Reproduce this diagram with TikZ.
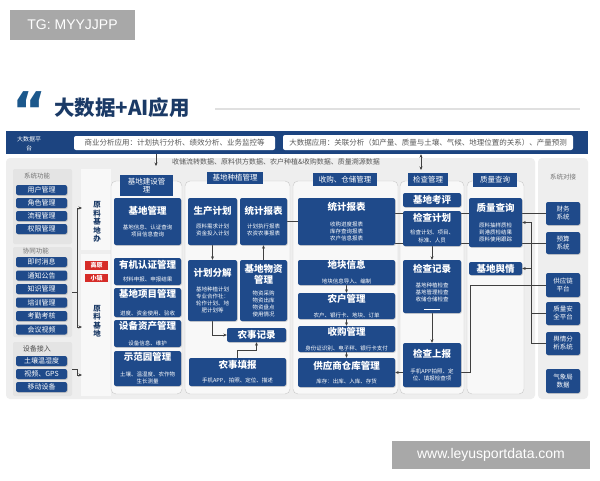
\documentclass[tikz,border=0pt]{standalone}
\usepackage{fontspec}
\setmainfont{Noto Sans CJK SC}
\newfontfamily\wmfont{Liberation Sans}
\newfontfamily\quotefont{DejaVu Sans}
\usetikzlibrary{arrows.meta,shadows}
\definecolor{boxblue}{RGB}{31,74,138}
\definecolor{bandblue}{RGB}{28,68,128}
\definecolor{navy}{RGB}{27,58,102}
\definecolor{quoteblue}{RGB}{28,88,140}
\definecolor{tagred}{RGB}{214,44,40}
\definecolor{panelgray}{RGB}{238,238,238}
\definecolor{framefill}{RGB}{248,248,248}
\definecolor{framegray}{RGB}{200,200,200}
\definecolor{groupgray}{RGB}{228,228,228}
\definecolor{wmgray}{RGB}{168,168,168}
\newcommand{\boxtitle}[1]{{\fontsize{9.5}{11}\selectfont\bfseries #1}}
\pgfdeclarelayer{bg}
\pgfdeclarelayer{lines}
\pgfsetlayers{bg,lines,main}

\begin{document}
\begin{tikzpicture}[x=1pt, y=-1pt,
  >={Stealth[length=3.5pt,width=3pt]},
  box/.style={fill=boxblue, text=white, rounded corners=2pt, inner sep=0pt, align=center,
    font=\fontsize{5.5}{7}\selectfont,
    drop shadow={shadow xshift=0.8pt, shadow yshift=-0.8pt, opacity=0.3}},
  btn/.style={box, minimum width=51pt, minimum height=10pt, font=\fontsize{7}{8}\selectfont},
  sysbox/.style={box, minimum width=34pt, font=\fontsize{6.5}{8}\selectfont},
  tab/.style={fill=boxblue, text=white, inner sep=0pt, align=center, font=\fontsize{7.5}{8.5}\selectfont},
  tag/.style={fill=tagred, text=white, inner sep=0pt, minimum width=23pt, minimum height=8.5pt, font=\fontsize{6}{6}\selectfont\bfseries},
  frame/.style={draw=framegray, fill=framefill, rounded corners=5pt, inner sep=0pt},
  group/.style={fill=groupgray, rounded corners=2pt, inner sep=0pt, minimum width=59pt},
  grouplabel/.style={text=black!55, font=\fontsize{6.5}{7}\selectfont},
  vtext/.style={text=navy, align=center, font=\fontsize{7.5}{8.5}\selectfont\bfseries},
  appbox/.style={fill=white, rounded corners=2pt, inner sep=0pt, text=black!65, font=\fontsize{7.5}{8}\selectfont},
  conn/.style={draw=black!75, line width=0.5pt},
  wm/.style={fill=wmgray, text=white, inner sep=0pt, font=\wmfont\fontsize{14}{16}\selectfont}
]
\useasboundingbox (0,0) rectangle (600,480);

% watermarks and heading
\node[wm, minimum width=125pt, minimum height=30pt] (tg) at (72.5,25) {TG: MYYJJPP};
\node[wm, minimum width=198pt, minimum height=28pt] (site) at (491,455) {www.leyusportdata.com};
\node[text=quoteblue, anchor=base, inner sep=0pt, font=\quotefont\bfseries\fontsize{52}{52}\selectfont] (quote) at (30,129) {“};
\node[text=navy, anchor=base west, inner sep=0pt, font=\fontsize{20.5}{22}\selectfont\bfseries] (title) at (54,115.5) {大数据+AI应用};
\coordinate (rulea) at (215,109);
\coordinate (ruleb) at (580,109);
\draw[black!12, line width=1.5pt] (rulea) -- (ruleb);

% top band
\node[fill=bandblue, minimum width=582pt, minimum height=23pt, inner sep=0pt] (band) at (297,142.5) {};
\begin{scope}
\clip (band.north west) rectangle (band.south east);
\node[text=white, align=center, font=\fontsize{6}{9}\selectfont] (bandlabel) at (29,148.5) {大数据平\\台\\应用};
\end{scope}
\node[appbox, minimum width=201pt, minimum height=14pt] (bizapp) at (174.5,143) {商业分析应用：计划执行分析、绩效分析、业务监控等};
\node[appbox, minimum width=290pt, minimum height=15pt] (bigapp) at (428,142.5) {大数据应用：关联分析（如产量、质量与土壤、气候、地理位置的关系）、产量预测};

% panels
\begin{pgfonlayer}{bg}
\fill[white] (0,0) rectangle (600,480);
\node[fill=panelgray, rounded corners=4pt, inner sep=0pt, minimum width=529pt, minimum height=241pt] (mainpanel) at (270.5,278.5) {};
\node[fill=panelgray, rounded corners=4pt, inner sep=0pt, minimum width=50pt, minimum height=241pt] (syspanel) at (563,278.5) {};
\node[group, minimum height=75pt] (gn) at (42.5,206.5) {};
\node[group, minimum height=90pt] (xt) at (42.5,292) {};
\node[group, minimum height=54pt] (sb) at (42.5,369) {};
\node[fill=framefill, inner sep=0pt, minimum width=30pt, minimum height=81pt] (jdbpanel) at (96,209.5) {};
\node[fill=framefill, inner sep=0pt, minimum width=30pt, minimum height=142pt] (jdpanel) at (96,325) {};
\node[frame, minimum width=71pt, minimum height=213pt] (fjs) at (146.5,287.5) {};
\node[frame, minimum width=105pt, minimum height=213pt] (fzz) at (237.5,287.5) {};
\node[frame, minimum width=105pt, minimum height=213pt] (fsg) at (345.5,287.5) {};
\node[frame, minimum width=64pt, minimum height=213pt] (fjc) at (432,287.5) {};
\node[frame, minimum width=57pt, minimum height=213pt] (fzl) at (495.5,287.5) {};
\end{pgfonlayer}

\node[text=black!65, font=\fontsize{7}{8}\selectfont] (data) at (276,162) {收储流转数据、原料供方数据、农户种植\&收购数据、质量溯源数据};
\coordinate (d1) at (156,166);
\coordinate (d2) at (421,170);

% left functions
\node[grouplabel] (gnl) at (37,176) {系统功能};
\node[btn] (yh) at (41.5,190) {用户管理};
\node[btn] (js) at (41.5,203) {角色管理};
\node[btn] (lc) at (41.5,216) {流程管理};
\node[btn] (qx) at (41.5,229) {权限管理};
\node[grouplabel] (xtl) at (36,251) {协同功能};
\node[btn] (xx) at (41.5,262) {即时消息};
\node[btn] (tz) at (41.5,275.5) {通知公告};
\node[btn] (zs) at (41.5,289) {知识管理};
\node[btn] (px) at (41.5,302.5) {培训管理};
\node[btn] (kq) at (41.5,316) {考勤考核};
\node[btn] (hy) at (41.5,329.5) {会议视频};
\node[grouplabel, text=black!70, font=\fontsize{7}{8}\selectfont] (sbl) at (37,349) {设备接入};
\node[btn] (tr) at (41.5,361) {土壤温湿度};
\node[btn] (sp) at (41.5,374) {视频、GPS};
\node[btn] (yd) at (41.5,387) {移动设备};

\node[vtext] (jdb) at (97,222) {原\\料\\基\\地\\办};
\node[vtext] (jd) at (97,321) {原\\料\\基\\地};
\node[tag] (gy) at (96.5,265.5) {高原};
\node[tag] (xz) at (96.5,278) {小镇};
\coordinate (b1) at (82,208);
\coordinate (b2) at (82,327);
\coordinate (b3) at (82,375);

% column tabs
\node[tab, minimum width=53pt, minimum height=21pt] (tjs) at (146.5,185.5) {基地建设管\\理};
\node[tab, minimum width=56pt, minimum height=12pt] (tzz) at (235,178) {基地种植管理};
\node[tab, minimum width=64pt, minimum height=13pt] (tsg) at (345,179.5) {收购、仓储管理};
\node[tab, minimum width=40pt, minimum height=13pt] (tjc) at (428,179.5) {检查管理};
\node[tab, minimum width=44pt, minimum height=14pt] (tzl) at (495,180) {质量查询};

% base construction
\node[box, minimum width=67pt, minimum height=47pt] (jdgl) at (147.5,221.5) {\boxtitle{基地管理}\\[8pt]基地信息、认证查询\\项目信息查询};
\node[box, minimum width=67pt, minimum height=27pt] (yjrz) at (147.5,271.5) {\boxtitle{有机认证管理}\\[6pt]材料申报、申报结果};
\node[box, minimum width=67pt, minimum height=29pt] (jdxm) at (147.5,302.5) {\boxtitle{基地项目管理}\\[11pt]进度、资金使用、验收};
\node[box, minimum width=67pt, minimum height=27pt] (sbzc) at (147.5,333.5) {\boxtitle{设备资产管理}\\[9pt]设备信息、维护};
\node[box, minimum width=67pt, minimum height=35pt] (sfy) at (147.5,368.5) {\boxtitle{示范园管理}\\[9pt]土壤、温湿度、农作物\\生长测量};

% base planting
\node[box, minimum width=49pt, minimum height=47pt] (scjh) at (212.5,221.5) {\boxtitle{生产计划}\\[7pt]原料需求计划\\资金投入计划};
\node[box, minimum width=47pt, minimum height=47pt] (tjbbL) at (263.5,221.5) {\boxtitle{统计报表}\\[7pt]计划执行报表\\农资农事报表};
\node[box, minimum width=49pt, minimum height=61pt] (jhfj) at (212.5,290.5) {\boxtitle{计划分解}\\[8pt]基地种植计划\\专业合作社：\\轮作计划、地\\肥计划等};
\node[box, minimum width=47pt, minimum height=61pt] (jdwz) at (263.5,290.5) {\boxtitle{基地物资}\\[1pt]\boxtitle{管理}\\[5pt]物资采购\\物资出库\\物资盘点\\使用情况};
\node[box, minimum width=59pt, minimum height=14pt] (nsjl) at (256.5,335) {\boxtitle{农事记录}};
\node[box, minimum width=97pt, minimum height=28pt] (nstb) at (237.5,372) {\boxtitle{农事填报}\\[7pt]手机APP，拍照、定位、描述};

% purchase and storage
\node[box, minimum width=97pt, minimum height=47pt] (tjbbR) at (346.5,221.5) {\boxtitle{统计报表}\\[9pt]收购进度报表\\库存查询报表\\农户信息报表};
\node[box, minimum width=97pt, minimum height=25pt] (dkxx) at (346.5,272.5) {\boxtitle{地块信息}\\[8pt]地块信息导入、编制};
\node[box, minimum width=97pt, minimum height=26pt] (nhgl) at (346.5,306) {\boxtitle{农户管理}\\[8pt]农户、银行卡、地块、订单};
\node[box, minimum width=97pt, minimum height=26pt] (sggl) at (346.5,339) {\boxtitle{收购管理}\\[8pt]身份证识别、电子秤、银行卡支付};
\node[box, minimum width=97pt, minimum height=29pt] (gysck) at (346.5,372.5) {\boxtitle{供应商仓库管理}\\[7pt]库存：出库、入库、存货};

% inspection
\node[box, minimum width=58pt, minimum height=14pt] (jdkp) at (432,200) {\boxtitle{基地考评}};
\node[box, minimum width=58pt, minimum height=35pt] (jcjh) at (432,228.5) {\boxtitle{检查计划}\\[6pt]检查计划、项目、\\[1pt]标准、人员};
\node[box, minimum width=58pt, minimum height=53pt] (jcjl) at (432,286.5) {\boxtitle{检查记录}\\[8pt]基地种植检查\\基地管理检查\\收储仓储检查\\[1pt]\rule{16pt}{0.4pt}};
\node[box, minimum width=58pt, minimum height=44pt] (jcsb) at (432,365) {\boxtitle{检查上报}\\[9pt]手机APP拍照、定\\位、填报检查项};

% quality
\node[box, minimum width=53pt, minimum height=49pt] (zlcx) at (495.5,222.5) {\boxtitle{质量查询}\\[9pt]原料抽样质检\\到港质检结果\\原料使用跟踪};
\node[box, minimum width=53pt, minimum height=13pt] (jdyq) at (495.5,268.5) {\boxtitle{基地舆情}};

% system interfaces
\node[grouplabel] (sysl) at (563,177) {系统对接};
\node[sysbox, minimum height=23pt] (cw) at (563,213.5) {财务\\系统};
\node[sysbox, minimum height=22pt] (ys) at (563,243) {预算\\系统};
\node[sysbox, minimum height=24pt] (gyl) at (563,285) {供应链\\平台};
\node[sysbox, minimum height=23pt] (zlaq) at (563,313.5) {质量安\\全平台};
\node[sysbox, minimum height=23pt] (yqfx) at (563,343.5) {舆情分\\析系统};
\node[sysbox, minimum height=24pt] (qxj) at (563,381) {气象局\\数据};

% connectors
\begin{pgfonlayer}{lines}
\draw[conn, ->] (band.south -| d1) -- (d1);
\draw[conn, <->] (band.south -| d2) -- (d2);
\draw[conn, ->] (xt.east) -- ++(5,0) |- (b1);
\draw[conn, ->] (xt.east) -- ++(5,0) |- (b2);
\draw[conn, ->] (sb.east) -- ++(5,0) |- (b3);
\draw[conn, ->] (scjh) -- (jhfj);
\draw[conn, ->] (jdwz) -- (tjbbL);
\draw[conn, ->] (jhfj.south) |- (nsjl.west);
\draw[conn, ->] (nstb.north) -- ++(0,-8) -| (nsjl.south);
\draw[conn] (tjbbL) -- (tjbbR);
\draw[conn] (cw.west -| tjbbR.east) -- (cw.west);
\draw[conn] (ys.west -| tjbbR.east) -- (ys.west);
\draw[conn, ->] (dkxx) -- (nhgl);
\draw[conn, ->] (nhgl) -- (sggl);
\draw[conn, ->] (sggl) -- (gysck);
\draw[conn, ->] (jcjh) -- (jcjl);
\draw[conn, ->] (jcjl) -- (jcsb);
\draw[conn, ->] (jcsb.west |- gysck.east) -- (gysck.east);
\draw[conn] (jcsb.east |- gysck.east) -- ++(9,0) |- (gyl.west);
\draw[conn, ->] (yqfx.west) -- ++(-15,0) |- (zlcx.east);
\draw[conn, ->] (zlaq.west) -- ++(-15,0) |- (jdyq.east);
\end{pgfonlayer}
\end{tikzpicture}
\end{document}
